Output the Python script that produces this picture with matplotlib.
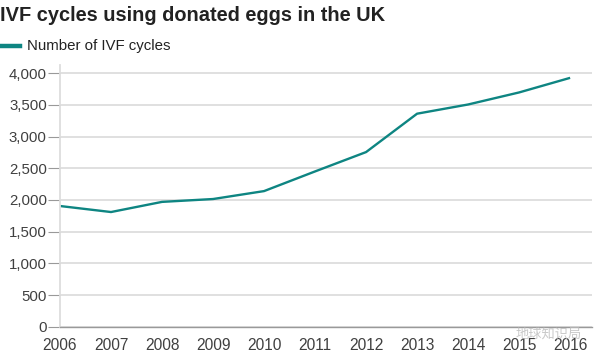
import matplotlib
matplotlib.use("Agg")
import matplotlib.pyplot as plt

years = [2006, 2007, 2008, 2009, 2010, 2011, 2012, 2013, 2014, 2015, 2016]
cycles = [1905, 1810, 1970, 2015, 2140, 2450, 2755, 3360, 3505, 3695, 3925]
y_ticks = [0, 500, 1000, 1500, 2000, 2500, 3000, 3500, 4000]

title = "IVF cycles using donated eggs in the UK"
series_name = "Number of IVF cycles"
teal = "#0e8582"

plt.rcParams['font.family'] = ['Liberation Sans', 'DejaVu Sans']

fig = plt.figure(figsize=(6.06, 3.64), dpi=100)
ax = fig.add_axes([0.099, 0.102, 0.878, 0.719])

ax.plot(years, cycles, color=teal, linewidth=1.7, solid_capstyle='butt')

ax.set_xlim(2006, 2016.43)
ax.set_ylim(0, 4125)
ax.set_xticks(years)
ax.set_yticks(y_ticks)
ax.set_yticklabels([f"{v:,}" for v in y_ticks])
ax.grid(axis='y', color='#dddddd', linewidth=1.3)
ax.set_axisbelow(True)

for s in ['top', 'right']:
    ax.spines[s].set_visible(False)
ax.spines['left'].set_color('#dddddd')
ax.spines['left'].set_linewidth(1.3)
ax.spines['bottom'].set_color('#999999')
ax.spines['bottom'].set_linewidth(1.0)

ax.tick_params(axis='y', length=8.5, width=0.8, color='#999999', pad=1,
               labelsize=10.8, labelcolor='#404040')
ax.tick_params(axis='x', length=0, pad=8, labelsize=11.2, labelcolor='#404040')

fig.text(0.0, 0.958, title, fontsize=14.4, fontweight='bold', color='#222222',
         va='center', ha='left')
fig.add_artist(plt.Line2D([0.0, 0.033], [0.874, 0.874], color=teal, linewidth=3.2,
                          transform=fig.transFigure))
fig.text(0.044, 0.874, series_name, fontsize=10.8, color='#222222', va='center', ha='left')

# watermark (overlaid on the source image)
fig.text(0.905, 0.082, "地球知识局", fontsize=9.5, color='#bbbbbb', alpha=0.8,
         family=['Noto Sans CJK SC', 'DejaVu Sans'], va='center', ha='center')

fig.savefig("out.png", dpi=100)
